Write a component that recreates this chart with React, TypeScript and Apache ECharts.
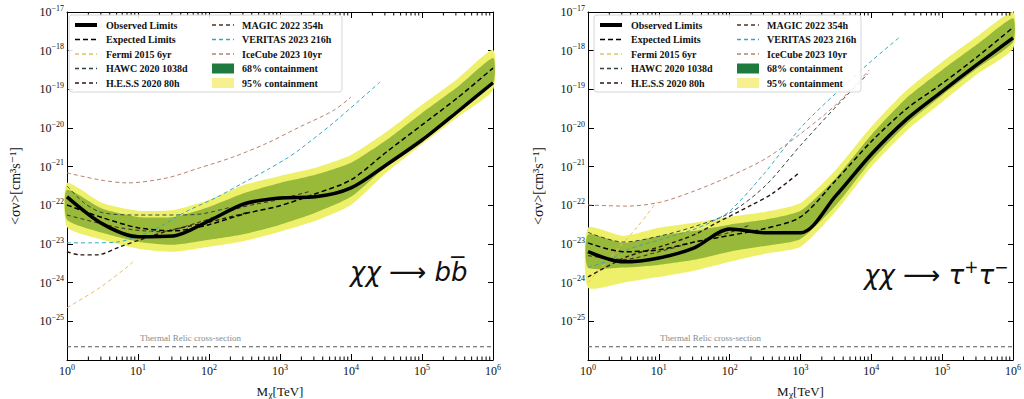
import React, { useEffect, useRef } from "react";
import * as echarts from "echarts";

// ---------- DATA (log10 values) ----------
// masses: log10(M_chi / TeV)
const massLog = [0, 0.5, 1, 1.5, 2, 2.5, 3, 3.5, 4, 4.5, 5, 5.5, 6];

// chi chi -> b bbar  (log10 <sigma v> [cm^3 s^-1])
const bbObserved = [-21.78, -22.48, -22.81, -22.79, -22.40, -21.96, -21.81, -21.78, -21.55, -20.95, -20.31, -19.58, -18.83];
const bbExpected = [-21.99, -22.32, -22.58, -22.66, -22.50, -22.22, -22.01, -21.70, -21.34, -20.62, -19.92, -19.22, -18.45];
const bb95Hi = [-21.42, -21.94, -22.14, -22.12, -21.86, -21.47, -21.24, -21.03, -20.70, -20.10, -19.40, -18.73, -17.98];
const bb95Lo = [-22.56, -22.89, -23.12, -23.20, -23.07, -22.92, -22.68, -22.40, -21.99, -21.15, -20.42, -19.72, -19.02];
const bb68Hi = [-21.60, -22.09, -22.30, -22.30, -22.04, -21.68, -21.42, -21.21, -20.90, -20.31, -19.61, -18.94, -18.19];
const bb68Lo = [-22.37, -22.71, -22.94, -23.02, -22.89, -22.74, -22.50, -22.19, -21.78, -20.98, -20.25, -19.55, -18.85];

const bbFermiX = [0, 0.46, 0.85, 0.93];
const bbFermiY = [-24.65, -24.13, -23.59, -23.46];
const bbHawcX = [0, 0.25, 0.5, 1.0, 1.5, 1.9, 2.3];
const bbHawcY = [-21.5, -21.95, -22.19, -22.25, -22.25, -22.22, -22.05];
const bbHessX = [0, 0.18, 0.42, 0.75, 1.03, 1.49, 2.01, 2.58];
const bbHessY = [-23.2, -23.28, -23.28, -23.07, -22.89, -22.63, -22.43, -22.17];
const bbMagicX = [0, 0.75, 1.31, 1.87, 2.44, 2.96, 3.4];
const bbMagicY = [-22.25, -22.58, -22.68, -22.43, -22.06, -21.86, -21.65];
const bbVeritasX = [0, 0.35, 0.7, 1.17, 1.69, 2.1, 2.48, 2.82, 3.1, 3.28, 3.75, 4.41];
const bbVeritasY = [-22.97, -22.97, -22.95, -22.68, -22.15, -21.8, -21.42, -21.08, -20.78, -20.55, -19.87, -18.81];
const bbIceCubeX = [0, 0.46, 0.85, 1.41, 1.87, 2.34, 2.82, 3.28, 3.75, 4.0];
const bbIceCubeY = [-21.16, -21.34, -21.42, -21.29, -21.03, -20.75, -20.39, -19.97, -19.55, -19.2];

// chi chi -> tau+ tau-
const ttObserved = [-23.20, -23.46, -23.36, -23.10, -22.61, -22.71, -22.71, -21.75, -20.68, -19.77, -19.05, -18.35, -17.67];
const ttExpected = [-22.97, -23.20, -23.15, -22.95, -22.78, -22.60, -22.30, -21.35, -20.35, -19.50, -18.85, -18.15, -17.40];
const tt95Hi = [-22.58, -22.79, -22.58, -22.45, -22.30, -22.17, -21.94, -21.08, -19.97, -19.02, -18.29, -17.62, -17.00];
const tt95Lo = [-24.13, -24.00, -23.85, -23.69, -23.46, -23.25, -23.07, -22.15, -21.00, -20.07, -19.33, -18.60, -17.95];
const tt68Hi = [-22.76, -22.97, -22.79, -22.66, -22.50, -22.37, -22.14, -21.29, -20.18, -19.22, -18.50, -17.83, -17.16];
const tt68Lo = [-23.61, -23.61, -23.54, -23.41, -23.20, -23.05, -22.87, -22.00, -20.85, -19.90, -19.15, -18.45, -17.78];

const ttFermiX = [0, 0.41, 0.7, 0.97];
const ttFermiY = [-24.0, -23.15, -22.55, -21.91];
const ttHawcX = [0, 0.5, 1.0, 1.5, 2.0, 2.5, 3.0, 3.5, 3.95];
const ttHawcY = [-22.7, -22.95, -22.8, -22.55, -22.2, -21.5, -20.45, -19.45, -18.6];
const ttHessX = [0, 0.55, 1.02, 1.5, 1.82, 2.3, 2.6, 2.98];
const ttHessY = [-23.85, -23.33, -23.07, -22.76, -22.45, -22.0, -21.7, -21.16];
const ttMagicX = [0, 0.5, 1.0, 1.5, 2.0, 2.3];
const ttMagicY = [-23.3, -23.4, -23.2, -22.95, -22.7, -22.5];
const ttVeritasX = [0, 0.31, 0.55, 1.02, 1.48, 1.72, 2.0, 2.5, 3.0, 3.5, 4.0, 4.4];
const ttVeritasY = [-23.61, -23.41, -23.15, -22.89, -22.63, -22.45, -22.15, -21.15, -20.0, -19.1, -18.27, -17.65];
const ttIceCubeX = [0, 0.55, 1.02, 1.5, 2.0, 2.5, 3.0, 3.5, 3.97];
const ttIceCubeY = [-21.99, -22.02, -21.92, -21.63, -21.25, -20.8, -20.15, -19.4, -18.5];

const thermalRelic = 2.2e-26;

const xTickExps = [0, 1, 2, 3, 4, 5, 6];
const yTickExps = [-26, -25, -24, -23, -22, -21, -20, -19, -18, -17];
const minorTickMantissas = [2, 3, 4, 5, 6, 7, 8, 9];

const legendCol1 = ["Observed Limits", "Expected Limits", "Fermi 2015 6yr", "HAWC 2020 1038d", "H.E.S.S 2020 80h"];
const legendCol2 = ["MAGIC 2022 354h", "VERITAS 2023 216h", "IceCube 2023 10yr", "68% containment", "95% containment"];

const yTitle = "<\u03c3v>[cm\u00b3s\u207b\u00b9]";
const xTitle = "M{sub|\u03c7}[TeV]";

// ---------- STYLES ----------
const SERIF = '"Liberation Serif", "DejaVu Serif", "Times New Roman", serif';
const C95 = "#eef06a";
const C68 = "#98b93a";
const STY: Record<string, { color: string; width: number; dash: number[] | null }> = {
  "Observed Limits": { color: "#000000", width: 3.5, dash: null },
  "Expected Limits": { color: "#000000", width: 1.5, dash: [5, 3] },
  "Fermi 2015 6yr": { color: "#e6c064", width: 1, dash: [4, 3] },
  "HAWC 2020 1038d": { color: "#2f4545", width: 1, dash: [4, 3] },
  "H.E.S.S 2020 80h": { color: "#2b1810", width: 1.4, dash: [4, 3] },
  "MAGIC 2022 354h": { color: "#4a3426", width: 1.1, dash: [4, 3] },
  "VERITAS 2023 216h": { color: "#36a7bc", width: 1, dash: [4, 3] },
  "IceCube 2023 10yr": { color: "#b8826f", width: 1, dash: [4, 3] },
};

const pow10 = (v: number) => Math.pow(10, v);
const pts = (xs: number[], ys: number[]) => xs.map((x, i) => [pow10(x), pow10(ys[i])]);

function lineSeries(p: number, name: string, xs: number[], ys: number[], z: number) {
  const s = STY[name];
  return {
    type: "line",
    name,
    xAxisIndex: 2 * p,
    yAxisIndex: 2 * p,
    data: pts(xs, ys),
    showSymbol: false,
    symbol: "none",
    smooth: 0.3,
    silent: true,
    z,
    lineStyle: { color: s.color, width: s.width, type: s.dash ? s.dash : "solid" },
  };
}

function bandSeries(p: number, name: string, xs: number[], lo: number[], hi: number[], color: string, z: number) {
  return {
    type: "custom",
    name,
    xAxisIndex: 2 * p,
    yAxisIndex: 2 * p,
    silent: true,
    z,
    data: xs.map((x, i) => [pow10(x), pow10(lo[i]), pow10(hi[i])]),
    encode: { x: 0, y: [1, 2] },
    renderItem: (params: any, api: any) => {
      if (params.dataIndex !== 0) return null;
      const top = xs.map((x, i) => api.coord([pow10(x), pow10(hi[i])]));
      const bot = xs.map((x, i) => api.coord([pow10(x), pow10(lo[i])])).reverse();
      return {
        type: "polygon",
        shape: { points: top.concat(bot), smooth: 0.2 },
        style: { fill: color },
      };
    },
  };
}

function minorTickSeries(p: number) {
  const data: number[][] = [];
  xTickExps.slice(0, -1).forEach((e) => minorTickMantissas.forEach((m) => data.push([m * pow10(e), 1e-20])));
  return {
    type: "custom",
    xAxisIndex: 2 * p,
    yAxisIndex: 2 * p,
    silent: true,
    z: 20,
    data,
    renderItem: (params: any, api: any) => {
      const x = api.coord([api.value(0), 1e-20])[0];
      const cs = params.coordSys;
      return {
        type: "group",
        children: [
          { type: "line", shape: { x1: x, y1: cs.y + cs.height, x2: x, y2: cs.y + cs.height - 3.5 }, style: { stroke: "#000", lineWidth: 1 } },
          { type: "line", shape: { x1: x, y1: cs.y, x2: x, y2: cs.y + 3.5 }, style: { stroke: "#000", lineWidth: 1 } },
        ],
      };
    },
  };
}

const expOf = (v: number) => {
  const e = Math.round(Math.log10(v));
  return e < 0 ? "\u2212" + String(-e) : String(e);
};

const tickRich = {
  s: { fontSize: 8, lineHeight: 8, verticalAlign: "top", fontFamily: SERIF, color: "#111" },
};

function axesFor(p: number) {
  const common = {
    gridIndex: p,
    splitLine: { show: false },
    axisLine: { show: true, onZero: false, lineStyle: { color: "#000", width: 1 } },
    axisTick: { show: true, inside: true, length: 6, lineStyle: { color: "#000", width: 1 } },
  };
  const xBase = { ...common, type: "log", logBase: 10, min: pow10(xTickExps[0]), max: pow10(xTickExps[xTickExps.length - 1]), splitNumber: 6 };
  const yBase = { ...common, type: "log", logBase: 10, min: pow10(yTickExps[0]), max: pow10(yTickExps[yTickExps.length - 1]), splitNumber: 9 };
  const xs = [
    {
      ...xBase,
      position: "bottom",
      axisLabel: {
        formatter: (v: number) => `10{s|${expOf(v)}}`,
        fontFamily: SERIF,
        fontSize: 12,
        lineHeight: 16,
        color: "#111",
        margin: 3,
        rich: tickRich,
      },
      name: xTitle,
      nameLocation: "middle",
      nameGap: 22,
      nameTextStyle: {
        fontFamily: SERIF,
        fontSize: 13,
        lineHeight: 16,
        color: "#111",
        rich: { sub: { fontSize: 10, lineHeight: 10, verticalAlign: "bottom", fontFamily: SERIF, color: "#111" } },
      },
    },
    { ...xBase, position: "top", axisLabel: { show: false } },
  ];
  const ys = [
    {
      ...yBase,
      position: "left",
      axisLabel: {
        formatter: (v: number) => `10{s|${expOf(v)}}`,
        fontFamily: SERIF,
        fontSize: 12,
        lineHeight: 16,
        color: "#111",
        margin: 3,
        rich: tickRich,
      },
    },
    { ...yBase, position: "right", axisLabel: { show: false }, axisTick: { ...common.axisTick, length: 5 } },
  ];
  return { xs, ys };
}

function panelSeries(
  p: number,
  d: {
    obs: number[]; exp: number[]; hi95: number[]; lo95: number[]; hi68: number[]; lo68: number[];
    fermi: [number[], number[]]; hawc: [number[], number[]]; hess: [number[], number[]];
    magic: [number[], number[]]; veritas: [number[], number[]]; icecube: [number[], number[]];
  }
) {
  return [
    bandSeries(p, "95% containment", massLog, d.lo95, d.hi95, C95, 1),
    bandSeries(p, "68% containment", massLog, d.lo68, d.hi68, C68, 2),
    {
      type: "line",
      name: "Thermal Relic cross-section",
      xAxisIndex: 2 * p,
      yAxisIndex: 2 * p,
      data: [
        [pow10(xTickExps[0]), thermalRelic],
        [pow10(xTickExps[xTickExps.length - 1]), thermalRelic],
      ],
      showSymbol: false,
      symbol: "none",
      silent: true,
      z: 3,
      lineStyle: { color: "#555", width: 1, type: [4, 3] },
    },
    lineSeries(p, "Fermi 2015 6yr", d.fermi[0], d.fermi[1], 3),
    lineSeries(p, "HAWC 2020 1038d", d.hawc[0], d.hawc[1], 3),
    lineSeries(p, "H.E.S.S 2020 80h", d.hess[0], d.hess[1], 3),
    lineSeries(p, "MAGIC 2022 354h", d.magic[0], d.magic[1], 3),
    lineSeries(p, "VERITAS 2023 216h", d.veritas[0], d.veritas[1], 3),
    lineSeries(p, "IceCube 2023 10yr", d.icecube[0], d.icecube[1], 3),
    lineSeries(p, "Expected Limits", massLog, d.exp, 4),
    lineSeries(p, "Observed Limits", massLog, d.obs, 5),
    minorTickSeries(p),
  ];
}

function legendGraphics(bx: number, w: number) {
  const rows = [25, 39.5, 54, 68.5, 83];
  const els: any[] = [
    {
      type: "rect",
      z: 100,
      shape: { x: bx, y: 15, width: w, height: 77, r: 3 },
      style: { fill: "rgba(255,255,255,0.88)", stroke: "#d6d6d6", lineWidth: 1 },
    },
  ];
  const handle = (name: string, x: number, y: number) => {
    if (name === "68% containment" || name === "95% containment") {
      return {
        type: "rect",
        z: 101,
        shape: { x, y: y - 5, width: 22, height: 10 },
        style: { fill: name === "68% containment" ? "#1f7a40" : "#f7f08e" },
      };
    }
    const s = STY[name];
    return {
      type: "line",
      z: 101,
      shape: { x1: x, y1: y, x2: x + 22, y2: y },
      style: { stroke: s.color, lineWidth: name === "Observed Limits" ? 4 : Math.max(1.3, s.width), lineDash: s.dash || null },
    };
  };
  const text = (t: string, x: number, y: number) => ({
    type: "text",
    z: 101,
    x,
    y,
    style: {
      text: t,
      font: `bold 10px ${SERIF}`,
      fill: "#111",
      align: "left",
      verticalAlign: "middle",
    },
  });
  legendCol1.forEach((n, i) => {
    els.push(handle(n, bx + 6, rows[i]));
    els.push(text(n, bx + 37, rows[i]));
  });
  legendCol2.forEach((n, i) => {
    els.push(handle(n, bx + 143, rows[i]));
    els.push(text(n, bx + 173, rows[i]));
  });
  return els;
}

function buildOption() {
  const a0 = axesFor(0);
  const a1 = axesFor(1);
  const thermalLabel = (x: number) => ({
    type: "text",
    z: 50,
    x,
    y: 338,
    style: {
      text: "Thermal Relic cross-section",
      font: `9px ${SERIF}`,
      fill: "#8a8a8a",
      align: "left",
      verticalAlign: "middle",
    },
  });
  const yName = (x: number) => ({
    type: "text",
    z: 50,
    x,
    y: 186,
    rotation: Math.PI / 2,
    style: {
      text: yTitle,
      font: `14px ${SERIF}`,
      fill: "#111",
      align: "center",
      verticalAlign: "middle",
    },
  });
  return {
    animation: false,
    backgroundColor: "#ffffff",
    grid: [
      { left: 67, right: 531, top: 12, bottom: 39, containLabel: false, outerBoundsMode: "none" },
      { left: 588, right: 11, top: 12, bottom: 39, containLabel: false, outerBoundsMode: "none" },
    ],
    xAxis: [...a0.xs, ...a1.xs],
    yAxis: [...a0.ys, ...a1.ys],
    series: [
      ...panelSeries(0, {
        obs: bbObserved, exp: bbExpected, hi95: bb95Hi, lo95: bb95Lo, hi68: bb68Hi, lo68: bb68Lo,
        fermi: [bbFermiX, bbFermiY], hawc: [bbHawcX, bbHawcY], hess: [bbHessX, bbHessY],
        magic: [bbMagicX, bbMagicY], veritas: [bbVeritasX, bbVeritasY], icecube: [bbIceCubeX, bbIceCubeY],
      }),
      ...panelSeries(1, {
        obs: ttObserved, exp: ttExpected, hi95: tt95Hi, lo95: tt95Lo, hi68: tt68Hi, lo68: tt68Lo,
        fermi: [ttFermiX, ttFermiY], hawc: [ttHawcX, ttHawcY], hess: [ttHessX, ttHessY],
        magic: [ttMagicX, ttMagicY], veritas: [ttVeritasX, ttVeritasY], icecube: [ttIceCubeX, ttIceCubeY],
      }),
    ],
    graphic: [
      ...legendGraphics(69, 273),
      ...legendGraphics(594, 267),
      thermalLabel(140),
      thermalLabel(660),
      yName(15),
      yName(538),
      {
        type: "text",
        z: 50,
        x: 350,
        y: 272,
        style: {
          text: "\u03c7\u03c7 \u27f6 bb\u0305",
          font: 'italic 26px "DejaVu Sans"',
          fill: "#111",
          align: "left",
          verticalAlign: "middle",
        },
      },
      {
        type: "text",
        z: 50,
        x: 864,
        y: 275,
        style: {
          text: "{m|\u03c7\u03c7 \u27f6 \u03c4}{s|+}{m|\u03c4}{s|\u2212}",
          fill: "#111",
          align: "left",
          verticalAlign: "middle",
          rich: {
            m: { fontFamily: "DejaVu Sans", fontStyle: "italic", fontSize: 26, lineHeight: 34, fill: "#111" },
            s: { fontFamily: "DejaVu Sans", fontSize: 17, lineHeight: 18, verticalAlign: "top", fill: "#111" },
          },
        },
      },
    ],
  };
}

export default function App() {
  const ref = useRef<HTMLDivElement>(null);
  useEffect(() => {
    if (!ref.current) return;
    const chart = echarts.init(ref.current, null, { renderer: "svg" });
    chart.setOption(buildOption() as any);
    return () => chart.dispose();
  }, []);
  return (
    <div
      ref={ref}
      style={{ position: "absolute", left: 0, top: 0, width: 1024, height: 399, background: "#ffffff" }}
    />
  );
}
